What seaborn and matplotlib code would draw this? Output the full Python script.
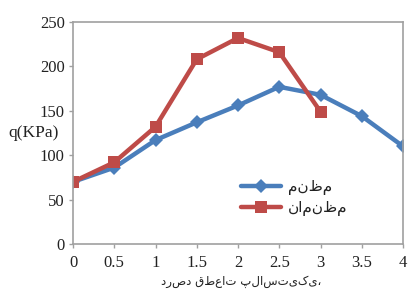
import matplotlib
matplotlib.use("Agg")
import matplotlib.pyplot as plt
import seaborn as sns
import pandas as pd

x_reg = [0, 0.5, 1, 1.5, 2, 2.5, 3, 3.5, 4]
q_reg = [70, 86, 117, 137, 156, 177, 168, 144, 110]
x_irr = [0, 0.5, 1, 1.5, 2, 2.5, 3]
q_irr = [70, 92, 132, 208, 232, 216, 149]
label_reg = "منظم"
label_irr = "نامنظم"
xlabel = "درصد قطعات پلاستیکی،"
ylabel = "q(KPa)"
xticks = [0, 0.5, 1, 1.5, 2, 2.5, 3, 3.5, 4]
xticklabels = ["0", "0.5", "1", "1.5", "2", "2.5", "3", "3.5", "4"]
yticks = [0, 50, 100, 150, 200, 250]

sns.set_theme(style="white")
plt.rcParams['font.family'] = ['Liberation Serif', 'DejaVu Sans']

fig = plt.figure(figsize=(4.08, 2.89), dpi=100)
ax = fig.add_axes([73/408, 45/289, 330/408, 222/289])

df_reg = pd.DataFrame({"x": x_reg, "q": q_reg})
df_irr = pd.DataFrame({"x": x_irr, "q": q_irr})
sns.lineplot(data=df_reg, x="x", y="q", ax=ax, color="#4a7ebb", lw=3.2,
             marker="D", markersize=7, markeredgewidth=0, label=label_reg)
sns.lineplot(data=df_irr, x="x", y="q", ax=ax, color="#be4b48", lw=3.2,
             marker="s", markersize=8, markeredgewidth=0, label=label_irr)

ax.set_xlim(0, 4)
ax.set_ylim(0, 250)
ax.set_xticks(xticks)
ax.set_xticklabels(xticklabels)
ax.set_yticks(yticks)
ax.tick_params(axis='both', direction='out', length=3, width=1, color='#a0a0a0',
               labelsize=12, labelcolor='#222222', bottom=True, left=True)
ax.tick_params(axis='x', pad=5)
ax.tick_params(axis='y', pad=3)
for s in ax.spines.values():
    s.set_color('#a0a0a0')
    s.set_linewidth(1.2)
ax.set_xlabel(xlabel, fontsize=8.5, family=['DejaVu Sans'], color='#222222', va='center')
ax.xaxis.set_label_coords(0.51, -0.168)
ax.set_ylabel(ylabel, fontsize=12.5, rotation=0, color='#222222', ha='left', va='center')
ax.yaxis.set_label_coords(-0.197, 0.5)

leg = ax.legend(loc='upper left', bbox_to_anchor=(0.49, 0.32), frameon=False,
                handlelength=2.6, labelspacing=0.35, borderaxespad=0, handletextpad=0.5,
                prop={'family': ['DejaVu Sans'], 'size': 11})
for t in leg.get_texts():
    t.set_color('#222222')
fig.savefig("out.png", dpi=100)
